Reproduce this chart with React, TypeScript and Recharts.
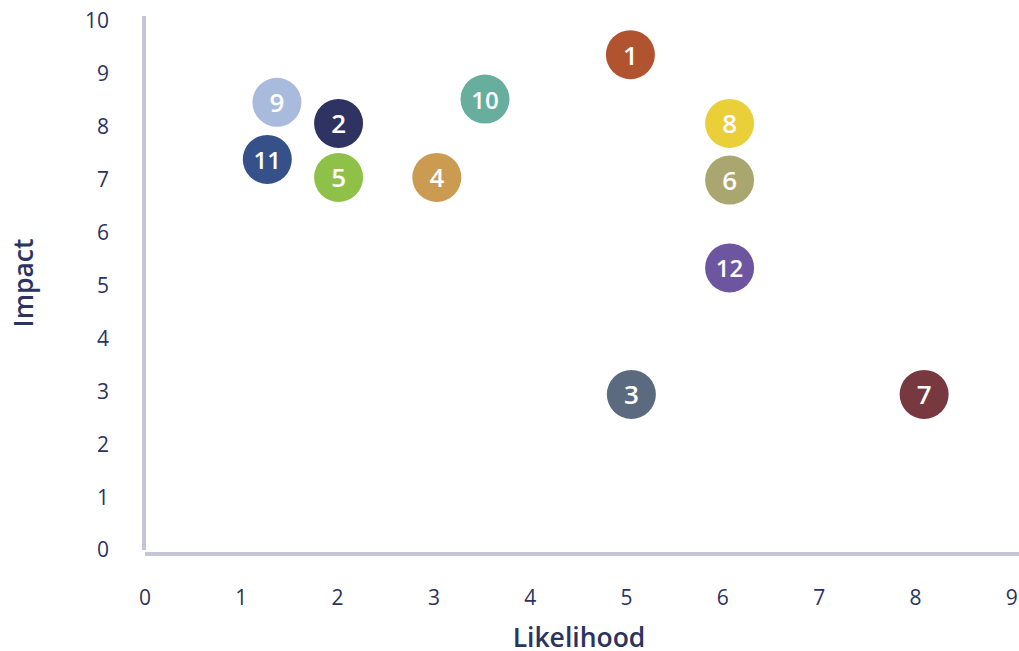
import { ScatterChart, Scatter, XAxis, YAxis, Cell, Label } from "recharts"

const riskIds = ["1", "2", "3", "4", "5", "6", "7", "8", "9", "10", "11", "12"]
const likelihood = [5.04, 2.01, 5.05, 3.03, 2.01, 6.07, 8.09, 6.07, 1.37, 3.53, 1.27, 6.07]
const impact = [9.36, 8.06, 2.94, 7.04, 7.04, 6.99, 2.94, 8.06, 8.46, 8.52, 7.38, 5.33]
const riskColors = [
  "#b25330", "#2f3361", "#5b6a7e", "#cb9b52", "#8fc149", "#aaa66f",
  "#773840", "#ebcf38", "#a9bbdc", "#67ae9f", "#36518a", "#6d55a0",
]
const xTicks = [0, 1, 2, 3, 4, 5, 6, 7, 8, 9]
const yTicks = [0, 1, 2, 3, 4, 5, 6, 7, 8, 9, 10]

const axisColor = "#c6c4d8"
const textColor = "#2b3361"
const font = "'Open Sans', 'Noto Sans', sans-serif"

const data = riskIds.map((id, i) => ({
  id,
  x: likelihood[i],
  y: impact[i],
  color: riskColors[i],
}))

function Bubble(props: any) {
  const { cx, cy, payload } = props
  if (cx == null || cy == null) return null
  const size = payload.id.length > 1 ? 24 : 26
  return (
    <g>
      <circle cx={cx} cy={cy} r={24.5} fill={payload.color} />
      <text
        x={cx}
        y={cy}
        fill="#fff"
        textAnchor="middle"
        dominantBaseline="central"
        fontFamily={font}
        fontWeight={600}
        fontSize={size}
      >
        {payload.id}
      </text>
    </g>
  )
}

function ImpactTitle(props: any) {
  const vb = props.viewBox
  const cy = vb.y + vb.height / 2
  return (
    <text
      x={23}
      y={cy}
      transform={`rotate(-90, 23, ${cy})`}
      textAnchor="middle"
      dominantBaseline="central"
      fill={textColor}
      fontFamily={font}
      fontWeight={600}
      fontSize={26.5}
    >
      Impact
    </text>
  )
}

function LikelihoodTitle(props: any) {
  const vb = props.viewBox
  const cx = vb.x + vb.width / 2 - 3
  return (
    <text
      x={cx}
      y={647}
      textAnchor="middle"
      fill={textColor}
      fontFamily={font}
      fontWeight={600}
      fontSize={26.5}
    >
      Likelihood
    </text>
  )
}

export default function App() {
  return (
    <div style={{ position: "absolute", left: 0, top: 0, background: "#fff" }}>
      <ScatterChart
        width={1019}
        height={651}
        margin={{ top: 16, right: 0, bottom: 0, left: 0 }}
      >
        <XAxis
          type="number"
          dataKey="x"
          domain={[0, 9.075]}
          ticks={xTicks}
          allowDataOverflow
          height={101}
          tickSize={0}
          tickMargin={40}
          tickLine={false}
          axisLine={{ stroke: axisColor, strokeWidth: 4, transform: "translate(0,4)" }}
          tick={{ fill: textColor, fontSize: 21, fontFamily: font }}
        >
          <Label content={<LikelihoodTitle />} />
        </XAxis>
        <YAxis
          type="number"
          dataKey="y"
          domain={[0, 10.09]}
          ticks={yTicks}
          allowDataOverflow
          width={145}
          tickSize={0}
          tickMargin={36}
          tickLine={false}
          axisLine={{ stroke: axisColor, strokeWidth: 4, transform: "translate(-1,0)" }}
          tick={{ fill: textColor, fontSize: 21, fontFamily: font }}
        >
          <Label content={<ImpactTitle />} />
        </YAxis>
        <Scatter data={data} shape={<Bubble />} isAnimationActive={false}>
          {data.map((d) => (
            <Cell key={d.id} fill={d.color} />
          ))}
        </Scatter>
      </ScatterChart>
    </div>
  )
}
